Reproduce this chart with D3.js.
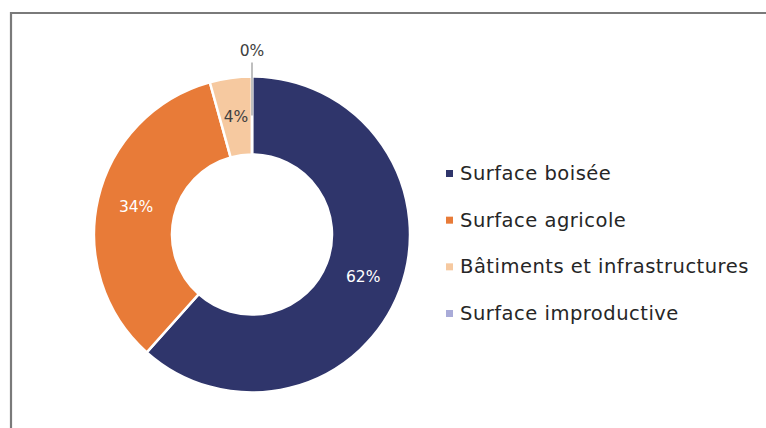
<!DOCTYPE html>
<html>
<head>
<meta charset="utf-8">
<script src="https://cdn.jsdelivr.net/npm/d3@7"></script>
<style>
  html, body { margin: 0; padding: 0; background: #fff; }
  svg { display: block; font-family: "DejaVu Sans", "Open Sans", sans-serif; }
</style>
</head>
<body>
<svg id="chart" width="766" height="428"></svg>
<script>
// Land-use shares (percent of total area)
const categories = ["Surface boisée", "Surface agricole", "Bâtiments et infrastructures", "Surface improductive"];
const shares = [61.6, 34.1, 4.3, 0.0];
const colors = ["#2f356b", "#e87b38", "#f6c9a0", "#a9abd8"];
const labelColors = ["#ffffff", "#ffffff", "#404040", "#404040"];

const data = categories.map((c, i) => ({ name: c, value: shares[i], color: colors[i], labelColor: labelColors[i] }));

const svg = d3.select("#chart");

// Frame around the chart area
svg.append("path")
  .attr("d", "M11,440 V13 H780")
  .attr("fill", "none")
  .attr("stroke", "#7a7a7a")
  .attr("stroke-width", 2.2);

const cx = 252, cy = 234.5;
const outerR = 158, innerR = 80;
const labelR = (outerR + innerR) / 2;

const pie = d3.pie().value(d => d.value).sort(null);
const arc = d3.arc().innerRadius(innerR).outerRadius(outerR);
const labelArc = d3.arc().innerRadius(labelR).outerRadius(labelR);

const g = svg.append("g").attr("transform", `translate(${cx},${cy})`);
const arcs = pie(data);

g.selectAll("path.slice")
  .data(arcs)
  .join("path")
  .attr("class", "slice")
  .attr("d", arc)
  .attr("fill", d => d.data.color)
  .attr("stroke", "#fff")
  .attr("stroke-width", 2.5);

const fmt = v => Math.round(v) + "%";

// Labels: inside the ring when the slice is wide enough, otherwise above with a leader line
arcs.forEach(a => {
  const span = a.endAngle - a.startAngle;
  const [lx, ly] = labelArc.centroid(a);
  if (span > 0.05) {
    g.append("text")
      .attr("x", lx).attr("y", ly)
      .attr("text-anchor", "middle")
      .attr("dominant-baseline", "central")
      .attr("font-size", 15.5)
      .attr("fill", a.data.labelColor)
      .text(fmt(a.data.value));
  } else {
    const ang = (a.startAngle + a.endAngle) / 2;
    const x = Math.sin(ang), y = -Math.cos(ang);
    g.append("line")
      .attr("x1", x * labelR).attr("y1", y * labelR)
      .attr("x2", x * (outerR + 14)).attr("y2", y * (outerR + 14))
      .attr("stroke", "#bfbfbf")
      .attr("stroke-width", 2);
    g.append("text")
      .attr("x", x * (outerR + 26)).attr("y", y * (outerR + 26))
      .attr("text-anchor", "middle")
      .attr("dominant-baseline", "central")
      .attr("font-size", 15.5)
      .attr("fill", "#404040")
      .text(fmt(a.data.value));
  }
});

// Legend
const legendY = d3.scalePoint().domain(categories).range([173.5, 313.5]);
const legend = svg.append("g");
const rows = legend.selectAll("g.row")
  .data(data)
  .join("g")
  .attr("class", "row")
  .attr("transform", d => `translate(446,${legendY(d.name)})`);

rows.append("rect")
  .attr("x", 0).attr("y", -3.5)
  .attr("width", 7).attr("height", 7)
  .attr("fill", d => d.color);

rows.append("text")
  .attr("x", 14).attr("y", 0)
  .attr("dominant-baseline", "central")
  .attr("font-size", 19.5)
  .attr("letter-spacing", 0.5)
  .attr("fill", "#262626")
  .text(d => d.name);
</script>
</body>
</html>
